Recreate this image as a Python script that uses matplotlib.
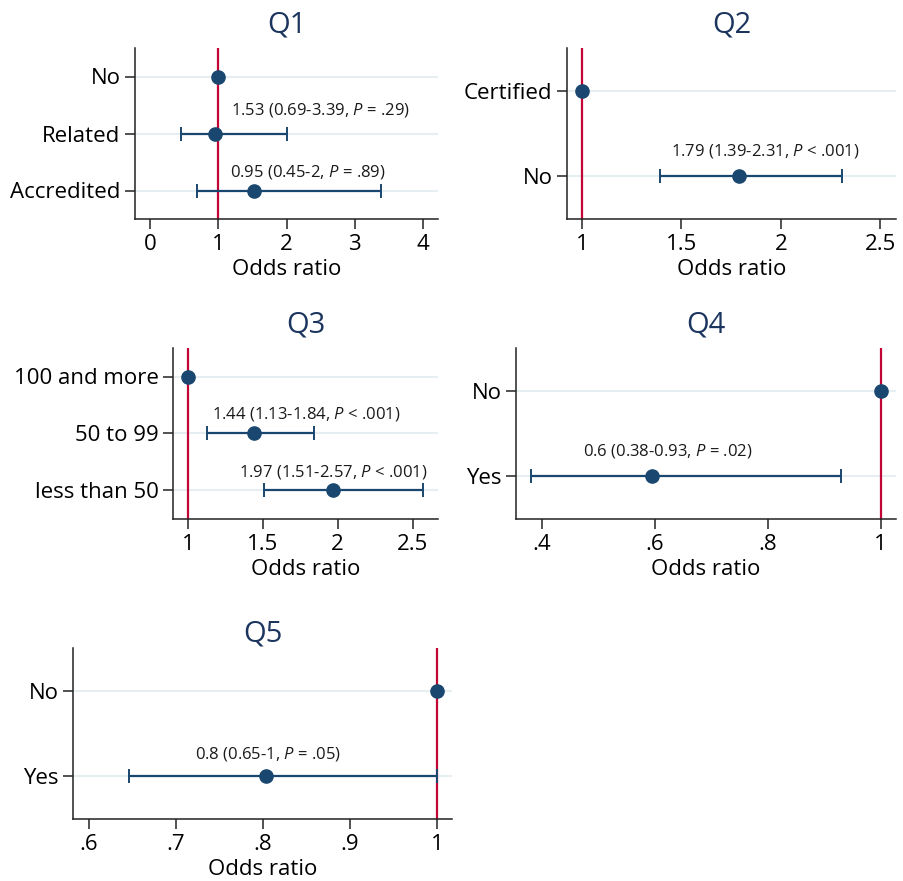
import numpy as np
import matplotlib
matplotlib.use("Agg")
import matplotlib.pyplot as plt

plt.rcParams['font.family'] = ['Open Sans', 'DejaVu Sans']
plt.rcParams['mathtext.fontset'] = 'custom'
plt.rcParams['mathtext.rm'] = 'Open Sans'
plt.rcParams['mathtext.it'] = 'Open Sans:italic'

# ---- data ----
q1_cats = ['No', 'Related', 'Accredited']
q1_or = [1.0, 0.95, 1.53]
q1_lo = [np.nan, 0.45, 0.69]
q1_hi = [np.nan, 2.0, 3.39]
q1_txt = [None, '1.53 (0.69-3.39, $\\mathit{P}$ = .29)', '0.95 (0.45-2, $\\mathit{P}$ = .89)']
q1_ticks = [0, 1, 2, 3, 4]
q1_ticklabels = ['0', '1', '2', '3', '4']

q2_cats = ['Certified', 'No']
q2_or = [1.0, 1.79]
q2_lo = [np.nan, 1.39]
q2_hi = [np.nan, 2.31]
q2_txt = [None, '1.79 (1.39-2.31, $\\mathit{P}$ < .001)']
q2_ticks = [1, 1.5, 2, 2.5]
q2_ticklabels = ['1', '1.5', '2', '2.5']

q3_cats = ['100 and more', '50 to 99', 'less than 50']
q3_or = [1.0, 1.44, 1.97]
q3_lo = [np.nan, 1.13, 1.51]
q3_hi = [np.nan, 1.84, 2.57]
q3_txt = [None, '1.44 (1.13-1.84, $\\mathit{P}$ < .001)', '1.97 (1.51-2.57, $\\mathit{P}$ < .001)']
q3_ticks = [1, 1.5, 2, 2.5]
q3_ticklabels = ['1', '1.5', '2', '2.5']

q4_cats = ['No', 'Yes']
q4_or = [1.0, 0.595]
q4_lo = [np.nan, 0.38]
q4_hi = [np.nan, 0.93]
q4_txt = [None, '0.6 (0.38-0.93, $\\mathit{P}$ = .02)']
q4_ticks = [0.4, 0.6, 0.8, 1.0]
q4_ticklabels = ['.4', '.6', '.8', '1']

q5_cats = ['No', 'Yes']
q5_or = [1.0, 0.803]
q5_lo = [np.nan, 0.646]
q5_hi = [np.nan, 1.0]
q5_txt = [None, '0.8 (0.65-1, $\\mathit{P}$ = .05)']
q5_ticks = [0.6, 0.7, 0.8, 0.9, 1.0]
q5_ticklabels = ['.6', '.7', '.8', '.9', '1']

# ---- layout (pixels in the 904x881 image) ----
W, H = 904, 881
NAVY = '#1a476f'
RED = '#c10534'
GRID = '#e6eef1'
TITLE_C = '#1c355e'

panels = [
    dict(title='Q1', cats=q1_cats, est=q1_or, lo=q1_lo, hi=q1_hi, txt=q1_txt,
         txt_x=[None, 2.5, 2.31], txt_dy=[0, 0.42, 0.33], ticks=q1_ticks, tl=q1_ticklabels,
         xlim=(-0.22, 4.22), box=(135, 48, 438, 219), tpad=11),
    dict(title='Q2', cats=q2_cats, est=q2_or, lo=q2_lo, hi=q2_hi, txt=q2_txt,
         txt_x=[None, 1.92], txt_dy=[0, 0.3], ticks=q2_ticks, tl=q2_ticklabels,
         xlim=(0.924, 2.58), box=(567, 48, 896, 219), tpad=11),
    dict(title='Q3', cats=q3_cats, est=q3_or, lo=q3_lo, hi=q3_hi, txt=q3_txt,
         txt_x=[None, 1.79, 1.97], txt_dy=[0, 0.35, 0.33], ticks=q3_ticks, tl=q3_ticklabels,
         xlim=(0.9, 2.67), box=(173, 348, 438, 519), tpad=11),
    dict(title='Q4', cats=q4_cats, est=q4_or, lo=q4_lo, hi=q4_hi, txt=q4_txt,
         txt_x=[None, 0.623], txt_dy=[0, 0.3], ticks=q4_ticks, tl=q4_ticklabels,
         xlim=(0.354, 1.027), box=(516, 348, 896, 519), tpad=11),
    dict(title='Q5', cats=q5_cats, est=q5_or, lo=q5_lo, hi=q5_hi, txt=q5_txt,
         txt_x=[None, 0.806], txt_dy=[0, 0.26], ticks=q5_ticks, tl=q5_ticklabels,
         xlim=(0.582, 1.017), box=(73, 648, 452, 819), tpad=2),
]

fig = plt.figure(figsize=(W / 100, H / 100), dpi=100)

for p in panels:
    x0, y0, x1, y1 = p['box']
    ax = fig.add_axes([x0 / W, 1 - y1 / H, (x1 - x0) / W, (y1 - y0) / H])
    n = len(p['cats'])
    ypos = np.arange(1, n + 1)

    for y in ypos:
        ax.axhline(y, color=GRID, lw=1.5, zorder=0)
    ax.axvline(1, color=RED, lw=1.6, zorder=1)

    est = np.array(p['est'])
    lo = np.array(p['lo'])
    hi = np.array(p['hi'])
    has_ci = ~np.isnan(lo)
    ax.errorbar(est[has_ci], ypos[has_ci],
                xerr=[est[has_ci] - lo[has_ci], hi[has_ci] - est[has_ci]],
                fmt='none', ecolor=NAVY, elinewidth=1.6, capsize=5, capthick=1.4, zorder=2)
    ax.plot(est, ypos, 'o', color=NAVY, ms=9.5, zorder=3)

    for y, t, tx, dy in zip(ypos, p['txt'], p['txt_x'], p['txt_dy']):
        if t:
            ax.text(tx, y - dy, t, ha='center', va='center', fontsize=12, color='#1a1a1a')

    ax.set_ylim(n + 0.5, 0.5)
    ax.set_yticks(ypos)
    ax.set_yticklabels(p['cats'], fontsize=16)
    ax.set_xlim(*p['xlim'])
    ax.set_xticks(p['ticks'])
    ax.set_xticklabels(p['tl'], fontsize=16)
    ax.set_xlabel('Odds ratio', fontsize=16, labelpad=3)
    ax.set_title(p['title'], fontsize=21, color=TITLE_C, pad=p['tpad'])

    for s in ['top', 'right']:
        ax.spines[s].set_visible(False)
    for s in ['left', 'bottom']:
        ax.spines[s].set_linewidth(1.1)
        ax.spines[s].set_color('#222222')
    ax.tick_params(axis='both', length=7.5, width=1.1, color='#222222', pad=3)

fig.savefig('out.png', dpi=100)
